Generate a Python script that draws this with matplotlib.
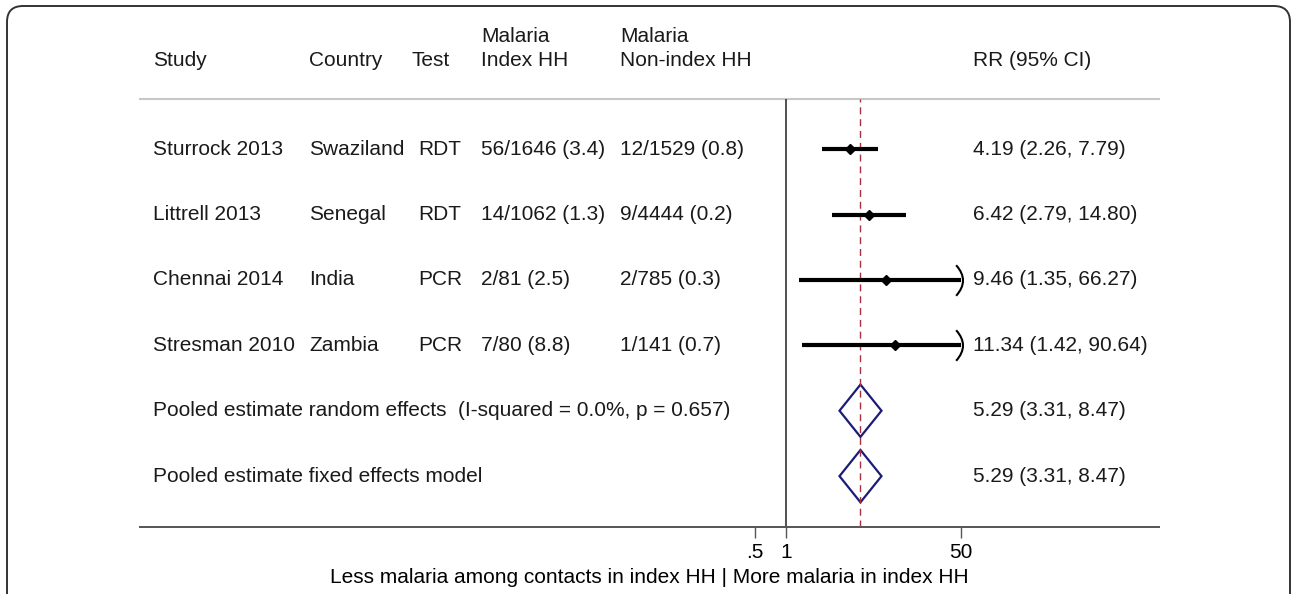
import numpy as np
import matplotlib
matplotlib.use("Agg")
import matplotlib.pyplot as plt
from matplotlib.patches import Polygon, FancyBboxPatch
from matplotlib.path import Path
import matplotlib.transforms as mtransforms

plt.rcParams['font.family'] = ['Liberation Sans', 'DejaVu Sans']

studies = ["Sturrock 2013", "Littrell 2013", "Chennai 2014", "Stresman 2010"]
countries = ["Swaziland", "Senegal", "India", "Zambia"]
tests = ["RDT", "RDT", "PCR", "PCR"]
index_hh = ["56/1646 (3.4)", "14/1062 (1.3)", "2/81 (2.5)", "7/80 (8.8)"]
nonindex_hh = ["12/1529 (0.8)", "9/4444 (0.2)", "2/785 (0.3)", "1/141 (0.7)"]
rr = [4.19, 6.42, 9.46, 11.34]
rr_lo = [2.26, 2.79, 1.35, 1.42]
rr_hi = [7.79, 14.80, 66.27, 90.64]

pooled_labels = ["Pooled estimate random effects  (I-squared = 0.0%, p = 0.657)",
                 "Pooled estimate fixed effects model"]
pooled_rr = [5.29, 5.29]
pooled_lo = [3.31, 3.31]
pooled_hi = [8.47, 8.47]

xticks = [0.5, 1, 50]
xticklabels = [".5", "1", "50"]
x_max = 50  # CIs beyond this get an arrow

W, H = 1292, 594
fig = plt.figure(figsize=(W / 100, H / 100), dpi=100)

# plot area in pixel terms: x 140..1159, y 99..526
ax = fig.add_axes([140 / W, 1 - 526.5 / H, (1159 - 140) / W, (526.5 - 99) / H])
ax.set_xscale("log")
px_per_ln = 44.7
ax.set_xlim(np.exp((140 - 786) / px_per_ln), np.exp((1159 - 786) / px_per_ln))
ax.set_ylim(6.77, 0.234)

for s in ["top", "left", "right"]:
    ax.spines[s].set_visible(False)
ax.spines["bottom"].set_color("#555555")
ax.spines["bottom"].set_linewidth(1.4)
ax.set_yticks([])
ax.set_xticks(xticks)
ax.set_xticklabels(xticklabels)
ax.xaxis.set_minor_locator(matplotlib.ticker.NullLocator())
ax.tick_params(axis="x", length=8, width=1, color="#555555", labelsize=15, pad=4)
ax.set_xlabel("Less malaria among contacts in index HH | More malaria in index HH",
              fontsize=15, labelpad=4)

# header rule
ax.axhline(0.234, color="#c8c8c8", lw=1.5, clip_on=False)

# reference lines
ax.axvline(1, color="#222222", lw=1.1)
ax.axvline(pooled_rr[0], color="#a83040", lw=1.0, dashes=(5, 3.5))

arrow = Path([(-0.35, -1), (0.55, 0), (-0.35, 1)], [Path.MOVETO, Path.CURVE3, Path.CURVE3])

rows = np.arange(1, len(studies) + 1)
for y, est, lo, hi in zip(rows, rr, rr_lo, rr_hi):
    ax.plot([lo, min(hi, x_max)], [y, y], color="black", lw=3, solid_capstyle="butt")
    ax.plot(est, y, marker="D", color="black", ms=5.5)
    if hi > x_max:
        ax.plot(x_max, y, marker=arrow, ms=22, mfc="none", mec="black", mew=1.5)

prow = np.arange(len(studies) + 1, len(studies) + 1 + len(pooled_rr))
for y, est, lo, hi in zip(prow, pooled_rr, pooled_lo, pooled_hi):
    ax.add_patch(Polygon([(lo, y), (est, y - 0.4), (hi, y), (est, y + 0.4)],
                         closed=True, fill=False, ec="#1c1c78", lw=1.6))

# text columns
tr = mtransforms.blended_transform_factory(fig.transFigure, ax.transData)
fs = 15
tc = "#1a1a1a"
col_x = {"study": 153, "country": 309, "test": 418, "idx": 481, "non": 620, "rr": 973}
for y, st, co, te, ih, nh, e, lo, hi in zip(rows, studies, countries, tests, index_hh,
                                              nonindex_hh, rr, rr_lo, rr_hi):
    ax.text(col_x["study"] / W, y, st, transform=tr, va="center", fontsize=fs, color=tc)
    ax.text(col_x["country"] / W, y, co, transform=tr, va="center", fontsize=fs, color=tc)
    ax.text(col_x["test"] / W, y, te, transform=tr, va="center", fontsize=fs, color=tc)
    ax.text(col_x["idx"] / W, y, ih, transform=tr, va="center", fontsize=fs, color=tc)
    ax.text(col_x["non"] / W, y, nh, transform=tr, va="center", fontsize=fs, color=tc)
    ax.text(col_x["rr"] / W, y, f"{e:.2f} ({lo:.2f}, {hi:.2f})", transform=tr,
            va="center", fontsize=fs, color=tc)

for y, lab, e, lo, hi in zip(prow, pooled_labels, pooled_rr, pooled_lo, pooled_hi):
    ax.text(col_x["study"] / W, y, lab, transform=tr, va="center", fontsize=fs, color=tc)
    ax.text(col_x["rr"] / W, y, f"{e:.2f} ({lo:.2f}, {hi:.2f})", transform=tr,
            va="center", fontsize=fs, color=tc)

# headers
hy1, hy2 = 1 - 36 / H, 1 - 60 / H
fig.text(col_x["study"] / W, hy2, "Study", va="center", fontsize=fs, color=tc)
fig.text(col_x["country"] / W, hy2, "Country", va="center", fontsize=fs, color=tc)
fig.text(411 / W, hy2, "Test", va="center", fontsize=fs, color=tc)
fig.text(col_x["idx"] / W, hy1, "Malaria", va="center", fontsize=fs, color=tc)
fig.text(col_x["idx"] / W, hy2, "Index HH", va="center", fontsize=fs, color=tc)
fig.text(col_x["non"] / W, hy1, "Malaria", va="center", fontsize=fs, color=tc)
fig.text(col_x["non"] / W, hy2, "Non-index HH", va="center", fontsize=fs, color=tc)
fig.text(col_x["rr"] / W, hy2, "RR (95% CI)", va="center", fontsize=fs, color=tc)

# outer rounded frame (bottom runs off the image)
frame = FancyBboxPatch((7, -60), 1283, H - 6 + 60, boxstyle="round,pad=0,rounding_size=16",
                       fill=False, ec="#333333", lw=1.4,
                       transform=mtransforms.IdentityTransform())
fig.patches.append(frame)

fig.savefig("out.png", dpi=100)
